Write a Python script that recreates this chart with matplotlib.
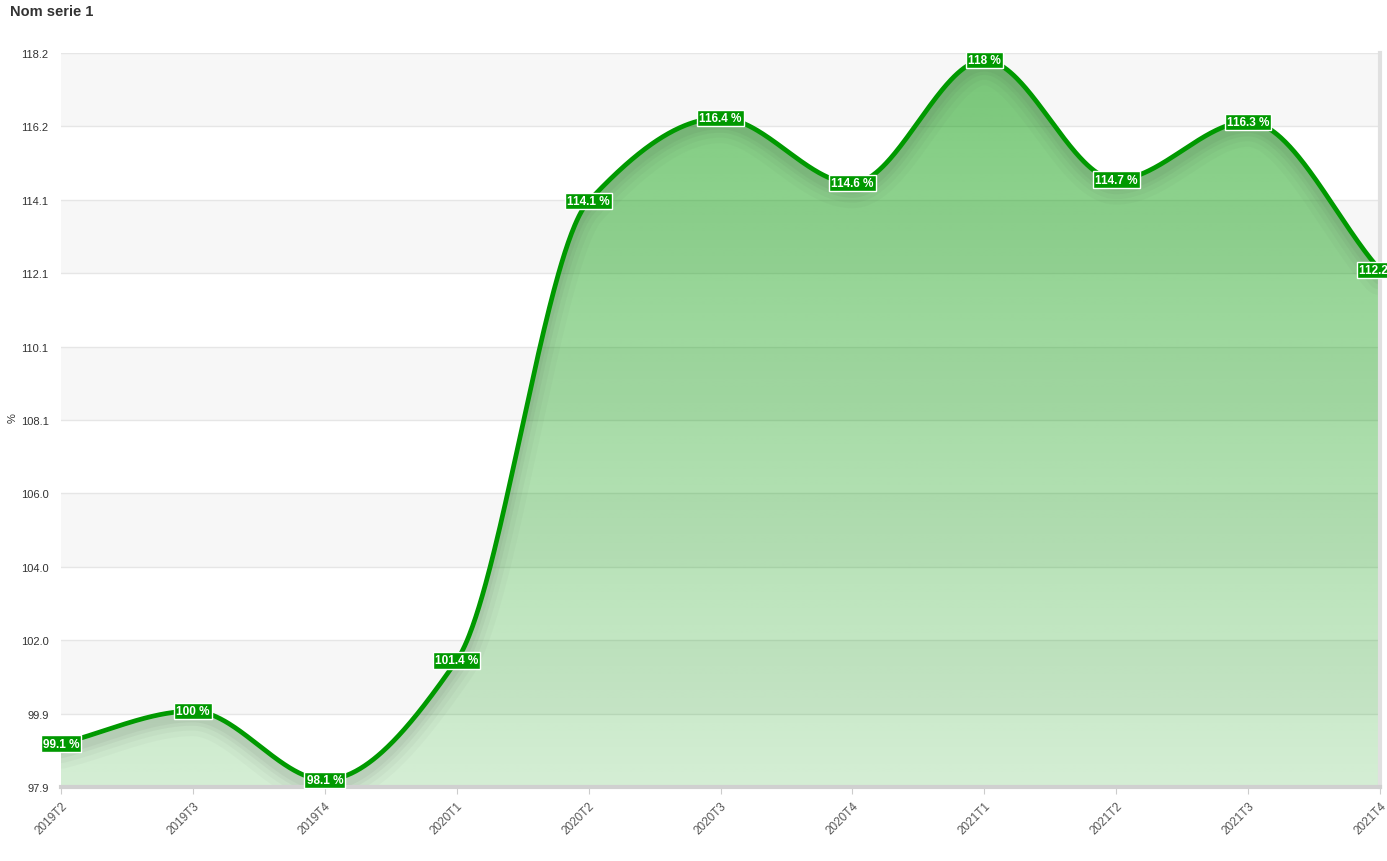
import numpy as np
import matplotlib
matplotlib.use("Agg")
import matplotlib.pyplot as plt
import matplotlib.transforms as mtransforms

plt.rcParams['font.family'] = ['Liberation Sans', 'DejaVu Sans']

# ---- data ----
periods = ["2019T2", "2019T3", "2019T4", "2020T1", "2020T2", "2020T3",
           "2020T4", "2021T1", "2021T2", "2021T3", "2021T4"]
values = [99.1, 100, 98.1, 101.4, 114.1, 116.4, 114.6, 118, 114.7, 116.3, 112.2]
value_labels = ["99.1 %", "100 %", "98.1 %", "101.4 %", "114.1 %", "116.4 %",
                "114.6 %", "118 %", "114.7 %", "116.3 %", "112.2 %"]
y_ticks = [97.9, 99.93, 101.96, 103.99, 106.02, 108.05, 110.08, 112.11, 114.14, 116.17, 118.2]
y_tick_labels = ["97.9", "99.9", "102.0", "104.0", "106.0", "108.1",
                 "110.1", "112.1", "114.1", "116.2", "118.2"]

GREEN = "#009900"


def pchip(x, y, xs):
    # monotone cubic (Fritsch-Carlson) to mimic the smooth line
    x = np.asarray(x, float)
    y = np.asarray(y, float)
    h = np.diff(x)
    d = np.diff(y) / h
    n = len(x)
    m = np.zeros(n)
    for k in range(1, n - 1):
        if d[k - 1] * d[k] > 0:
            w1 = 2 * h[k] + h[k - 1]
            w2 = h[k] + 2 * h[k - 1]
            m[k] = (w1 + w2) / (w1 / d[k - 1] + w2 / d[k])
    m[0] = d[0]
    m[-1] = d[-1]
    idx = np.clip(np.searchsorted(x, xs) - 1, 0, n - 2)
    t = (xs - x[idx]) / h[idx]
    h00 = 2 * t**3 - 3 * t**2 + 1
    h10 = t**3 - 2 * t**2 + t
    h01 = -2 * t**3 + 3 * t**2
    h11 = t**3 - t**2
    return h00 * y[idx] + h10 * h[idx] * m[idx] + h01 * y[idx + 1] + h11 * h[idx] * m[idx + 1]


x = np.arange(len(periods))
xs = np.linspace(0, len(periods) - 1, 1200)
ys = pchip(x, values, xs)

fig = plt.figure(figsize=(13.87, 8.62), dpi=100)
ax = fig.add_axes([61 / 1387, 74 / 862, (1380 - 61) / 1387, (788 - 54) / 862])

ymin, ymax = y_ticks[0], y_ticks[-1]
ax.set_xlim(0, len(periods) - 1)
ax.set_ylim(ymin, ymax)

# alternating bands + grid
for i in range(len(y_ticks) - 1):
    if i % 2 == 1:
        ax.axhspan(y_ticks[i], y_ticks[i + 1], color="#f7f7f7", zorder=0, lw=0)
for yt in y_ticks:
    ax.axhline(yt, color="#e6e6e6", lw=1, zorder=0.5)

# gradient fill under the curve
poly = ax.fill_between(xs, ys, ymin, facecolor="none", edgecolor="none")
grad = np.zeros((256, 2, 4))
grad[..., 0] = 0.0
grad[..., 1] = 153 / 255
grad[..., 2] = 0.0
alphas = np.linspace(0.52, 0.17, 256)
grad[..., 3] = alphas[:, None]
img = ax.imshow(grad, extent=[0, len(periods) - 1, ymin, ymax], origin="upper",
                aspect="auto", zorder=1, interpolation="bilinear")
img.set_clip_path(poly.get_paths()[0], transform=ax.transData)

# soft shadow under the line
for lw, a in [(26, 0.03), (18, 0.04), (11, 0.05), (6, 0.05)]:
    tr = mtransforms.offset_copy(ax.transData, fig=fig, x=0, y=-7, units="dots")
    sh, = ax.plot(xs, ys, color="#404040", lw=lw, alpha=a, transform=tr, zorder=1.5,
                  solid_capstyle="round")
    sh.set_clip_path(poly.get_paths()[0], transform=ax.transData)

ax.plot(xs, ys, color=GREEN, lw=3.4, zorder=3, solid_capstyle="round")

# value labels
for xi, v, lab in zip(x, values, value_labels):
    ax.text(xi, v, lab, ha="center", va="center", color="white", fontsize=8.5,
            fontweight="bold", zorder=5, clip_on=False,
            bbox=dict(boxstyle="square,pad=0.18", fc=GREEN, ec="white", lw=1))

# axes styling
for s in ["top", "left"]:
    ax.spines[s].set_visible(False)
ax.spines["bottom"].set_color("#d0d0d0")
ax.spines["bottom"].set_linewidth(3)
ax.spines["bottom"].set_zorder(4)
ax.spines["right"].set_color("#e0e0e0")
ax.spines["right"].set_linewidth(3)

ax.set_xticks(x)
ax.set_xticklabels(periods, rotation=45, ha="right", rotation_mode="anchor",
                   fontsize=8.5, color="#555555")
ax.tick_params(axis="x", length=5, color="#cccccc", pad=4)
ax.set_yticks(y_ticks)
ax.set_yticklabels(y_tick_labels, fontsize=8, color="#333333")
ax.tick_params(axis="y", length=0, pad=9)

fig.text(8 / 1387, 1 - 418 / 862, "%", rotation=90, fontsize=8, color="#333333",
         ha="left", va="center")
fig.text(10 / 1387, 1 - 12 / 862, "Nom serie 1", fontsize=10.5, fontweight="bold",
         color="#333333", ha="left", va="center")

fig.savefig("out.png", dpi=100)
